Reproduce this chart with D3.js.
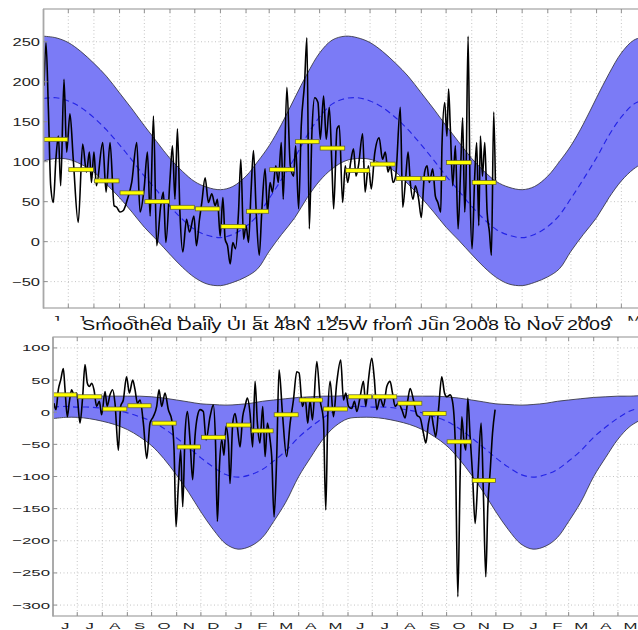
<!DOCTYPE html>
<html><head><meta charset="utf-8">
<script src="https://cdn.jsdelivr.net/npm/d3@7"></script>
<style>body{margin:0;background:#fff}svg{display:block}</style>
</head><body>
<svg id="c" width="638" height="630"></svg>
<script>
// ---------- DATA ----------
const titleText = "Smoothed Daily UI at 48N 125W from Jun 2008 to Nov 2009";
const monthLabels = ["J","J","A","S","O","N","D","J","F","M","A","M","J","J","A","S","O","N","D","J","F","M","A","M"];
const topYTicks = [250,200,150,100,50,0,-50];
const botYTicks = [100,50,0,-50,-100,-150,-200,-250,-300];

// climatology, days after 1 June (one seasonal cycle, repeated each year)
const climDays = [0,15,30,45,61,76,92,107,122,137,153,168,183,198,214,229,245,259,273,288,304,319,334,349,365];
const topUpper = [257,255,249,238,223,207,186,166,145,125,104,88,75,68,65,69,82,100,120,147,180,210,236,252,257];
const topMean  = [179,180,176,168,155,140,121,102,82,64,44,28,15,8,5,9,19,33,54,78,105,133,156,172,179];
const topLower = [101,104,103,97,87,72,55,37,18,2,-16,-32,-45,-53,-55,-51,-44,-34,-12,9,30,55,76,91,101];
const botUpper = [26,26,25,25,25,25,25,25,24,22,19,16,13,12,11,12,14,17,19,21,23,24,25,25,26];
const botMean  = [8,9,8,8,6,3,-1,-7,-14,-25,-40,-55,-71,-85,-97,-101,-97,-89,-76,-60,-39,-23,-9,2,8];
const botLower = [-10,-8,-8,-10,-14,-19,-27,-38,-52,-72,-98,-125,-155,-182,-205,-213,-208,-195,-170,-140,-100,-70,-42,-22,-10];

// monthly means Jun 2008 .. Nov 2009
const topMonthly = [128,90,76,61,50,43,41,19,38,90,125,117,89,97,79,79,99,74];
const botMonthly = [27,24,5,10,-17,-54,-39,-20,-29,-4,19,5,24,24,14,-2,-46,-106];

// smoothed daily UI (days after 1 June 2008, value)
const topDaily = [[0.6,195],[3,249],[5.9,166],[8.7,70],[11.9,49],[15,103],[18,132],[20.8,70],[24.8,203],[28,112],[32,160],[36,103],[42,24],[47.4,122],[52,87],[55.5,112],[58,74],[61,112],[64,70],[71.6,124],[75.7,62],[80.5,124],[85.4,45],[88.6,43],[92.6,37],[96.6,39],[101.5,53],[106.7,74],[112.8,124],[116.8,37],[121.7,66],[125.7,112],[129,32],[133,157],[137,-5],[141.8,45],[145,62],[148,-1],[153,78],[156,120],[159,53],[162,141],[165,37],[168.5,-13],[173,28],[176.6,12],[182,32],[185,-5],[188.7,28],[191.5,49],[195.5,80],[199.5,49],[203.6,60],[207.6,45],[210.4,53],[213.7,7],[217,55],[219.7,3],[222.6,-5],[225.8,-28],[229,-1],[232.3,-9],[235.9,37],[238.7,103],[242,3],[245,20],[248,-1],[251,62],[254,114],[257.3,37],[261,-17],[264,37],[268,91],[271,37],[274,74],[277,62],[281,95],[284,74],[287.6,124],[290,53],[294.4,193],[298.5,95],[302.5,82],[305,120],[308.6,41],[311.8,145],[315.8,199],[318.6,255],[321.5,16],[324.7,137],[328,180],[332,174],[334.8,128],[338.8,182],[342,128],[345.7,168],[349,91],[351,41],[355,141],[357.8,145],[361.8,49],[365,95],[368,74],[371.5,99],[375,116],[378,82],[381,95],[386,135],[389,62],[393,95],[396.5,66],[400.6,110],[406,130],[410,103],[413.5,112],[416.7,87],[419.5,95],[422.8,74],[426,82],[431.6,168],[434.5,43],[437.7,74],[441,112],[443.7,74],[447,53],[449.8,70],[453.8,53],[457,30],[461,87],[464,95],[466.7,74],[470.8,91],[474,57],[477,49],[480.5,37],[482,120],[485.3,174],[488,132],[490,191],[492,145],[495,70],[498.2,120],[501.5,16],[504.7,95],[507,155],[509.5,37],[511,74],[513.6,257],[516,62],[518.4,-9],[521.6,82],[524,124],[526.5,20],[528.5,132],[531,82],[533.8,124],[536.6,37],[539.4,12],[541.8,-17],[544.6,162],[546.6,74]];
const botDaily = [[1.2,14],[3.7,4],[6.6,35],[9.5,50],[12.8,68],[14.9,35],[17.7,-7],[20,14],[23,35],[26,27],[29.3,30],[33.4,-17],[36.7,24],[39.6,74],[42.5,45],[45,40],[47.9,45],[50.7,35],[54,9],[57.3,17],[60.2,-4],[64.4,32],[67,9],[70.5,27],[73.8,35],[76.7,14],[80.9,-59],[83.7,9],[87,19],[91,55],[94.5,30],[98.6,50],[101.5,35],[104.4,14],[107.7,19],[111.8,-17],[116,-72],[120,-17],[124,-7],[128.3,9],[131.2,35],[134.5,9],[138.6,30],[142.7,4],[146.9,-12],[149.8,-59],[152.2,-178],[155,-116],[158,-59],[160.5,-147],[163.4,-33],[166.3,1],[169.5,-43],[172.8,-105],[175.7,-38],[178.6,-7],[182,4],[186,1],[189.4,-43],[194.3,-7],[198.4,11],[201,-43],[203.4,-170],[205.9,-85],[208.7,-43],[211.6,-67],[214,-22],[217,-48],[219,-111],[222.4,-17],[225.2,-2],[228,-22],[231.4,-54],[234.7,-7],[237.6,9],[240.5,22],[243.8,-2],[247,-54],[250,48],[252.9,-17],[256,-48],[259.5,9],[262.4,-69],[265.3,-17],[268.6,-43],[270.6,-69],[273.5,-163],[276.8,-69],[279.7,66],[283.9,-2],[289,-69],[293.4,-17],[297.5,19],[301.6,63],[304.5,61],[308.6,9],[312,22],[315.2,-17],[318,19],[321,-12],[326.4,79],[330.5,19],[334.6,-12],[337.5,-152],[340,-7],[342.9,48],[347,-7],[351,45],[356,81],[359.4,19],[362.3,30],[365.6,9],[369.7,6],[373,17],[375.9,1],[380,24],[384.1,48],[387,9],[390.3,50],[394.4,84],[397.7,50],[400.6,4],[404.8,22],[408.9,9],[413,40],[417.1,48],[420,30],[423.3,9],[427.4,14],[431.6,4],[435.7,-9],[439,19],[441.9,37],[446,19],[450.1,-4],[454.3,-9],[458.4,-33],[461.3,-48],[464.6,-17],[467.9,-2],[470.8,-22],[473.6,-38],[477,4],[481,55],[484.4,30],[487.3,24],[491.4,27],[494.3,17],[497.6,-43],[500.9,-287],[503.8,-95],[505.8,-7],[508.3,-43],[510.8,-59],[513.2,22],[516.1,-38],[519,-95],[522.3,-173],[525.6,-105],[529.7,-17],[532.6,-131],[535.5,-256],[538,-147],[541,-90],[543.8,-33],[547,4]];

// ---------- DRAW ----------
const svg = d3.select('#c');
const t0 = Date.UTC(2008,5,1);
const dayToDate = d => new Date(t0 + d*864e5);
const startD = new Date(Date.UTC(2008,5,1)), endD = new Date(Date.UTC(2010,5,1));
const monthStarts = d3.utcMonth.range(startD, d3.utcDay.offset(endD,1)); // 25 boundaries

function climSeries(vals){
  const out=[];
  [0,365].forEach((yr,k)=>{
    climDays.forEach((d,i)=>{ if(k===1 && i===0) return; out.push([d+yr, vals[i]]); });
  });
  return out;
}

function panel(o){
  const g = svg.append('g');
  const x = d3.scaleUtc().domain([startD,endD]).range([o.left,o.right]);
  const y = d3.scaleLinear().domain(o.ydom).range([o.bottom,o.top]);
  const clipId = 'clip'+o.id;
  g.append('clipPath').attr('id',clipId).append('rect')
    .attr('x',o.left).attr('y',o.top).attr('width',o.right-o.left).attr('height',o.bottom-o.top);
  const pg = g.append('g').attr('clip-path',`url(#${clipId})`);
  // grid
  pg.selectAll('.vg').data(monthStarts.slice(1,-1)).join('line')
    .attr('x1',d=>x(d)).attr('x2',d=>x(d)).attr('y1',o.top).attr('y2',o.bottom)
    .attr('stroke','#c4c4c4').attr('stroke-dasharray','1,2.5').attr('stroke-width',1);
  pg.selectAll('.hg').data(o.yticks).join('line')
    .attr('x1',o.left).attr('x2',o.right).attr('y1',d=>y(d)).attr('y2',d=>y(d))
    .attr('stroke','#c4c4c4').attr('stroke-dasharray','1,2.5').attr('stroke-width',1);
  // band
  const up = climSeries(o.upper), lo = climSeries(o.lower), mn = climSeries(o.mean);
  const bandData = up.map((p,i)=>({d:p[0],u:p[1],l:lo[i][1]}));
  const area = d3.area().x(p=>x(dayToDate(p.d))).y0(p=>y(p.l)).y1(p=>y(p.u)).curve(d3.curveCatmullRom);
  pg.append('path').datum(bandData).attr('d',area).attr('fill','#7b7bf6').attr('stroke','none');
  const ln = d3.line().x(p=>x(dayToDate(p[0]))).y(p=>y(p[1])).curve(d3.curveCatmullRom);
  pg.append('path').datum(up).attr('d',ln).attr('fill','none').attr('stroke','#3a3a4a').attr('stroke-width',0.9);
  pg.append('path').datum(lo).attr('d',ln).attr('fill','none').attr('stroke','#3a3a4a').attr('stroke-width',0.9);
  pg.append('path').datum(mn).attr('d',ln).attr('fill','none').attr('stroke','#2424e6').attr('stroke-width',1.15).attr('stroke-dasharray','6,4');
  // daily series
  const dl = d3.line().x(p=>x(dayToDate(p[0]))).y(p=>y(p[1])).curve(d3.curveMonotoneX);
  pg.append('path').datum(o.daily).attr('d',dl).attr('fill','none').attr('stroke','#000').attr('stroke-width',1.6).attr('stroke-linejoin','round');
  // monthly bars
  pg.selectAll('.mb').data(o.monthly).join('rect')
    .attr('x',(d,i)=>x(monthStarts[i])+0.5).attr('width',(d,i)=>x(monthStarts[i+1])-x(monthStarts[i])-1)
    .attr('y',d=>y(d)-2).attr('height',4)
    .attr('fill','#ffff00').attr('stroke','#5a5a30').attr('stroke-width',0.7);
  // frame
  const fc = '#8f8f8f';
  g.append('rect').attr('x',o.left).attr('y',o.top).attr('width',o.right-o.left).attr('height',o.bottom-o.top)
    .attr('fill','none').attr('stroke',fc).attr('stroke-width',1);
  g.append('line').attr('x1',o.left).attr('x2',o.left).attr('y1',o.top).attr('y2',o.bottom+0.5)
    .attr('stroke','#a8a8a8').attr('stroke-width',1.8);
  // ticks
  const tk = 4;
  monthStarts.slice(1,-1).forEach(d=>{
    g.append('line').attr('x1',x(d)).attr('x2',x(d)).attr('y1',o.bottom).attr('y2',o.bottom-tk).attr('stroke',fc);
    g.append('line').attr('x1',x(d)).attr('x2',x(d)).attr('y1',o.top).attr('y2',o.top+tk).attr('stroke',fc);
  });
  o.yticks.forEach(v=>{
    g.append('line').attr('x1',o.left).attr('x2',o.left+tk).attr('y1',y(v)).attr('y2',y(v)).attr('stroke',fc);
  });
  // labels
  const fam = '"Liberation Sans", Arial, Helvetica, sans-serif';
  o.yticks.forEach(v=>{
    g.append('text').attr('transform',`translate(${o.labelX},${y(v)+o.fs*0.36}) scale(${o.sx},1)`)
      .attr('text-anchor','end').attr('font-family',fam).attr('font-size',o.fs).attr('fill','#222')
      .text(v<0 ? '\u2212'+Math.abs(v) : String(v));
  });
  monthLabels.forEach((m,i)=>{
    const xm = (x(monthStarts[i])+x(monthStarts[i+1]))/2;
    g.append('text').attr('transform',`translate(${xm},${o.monthY}) scale(${o.sx},1)`)
      .attr('text-anchor','middle').attr('font-family',fam).attr('font-size',o.fs).attr('fill','#222')
      .text(m);
  });
  return g;
}

panel({id:'t',left:43.5,right:647,top:9,bottom:308,ydom:[-83,291],yticks:topYTicks,
  upper:topUpper,lower:topLower,mean:topMean,daily:topDaily,monthly:topMonthly,
  labelX:40,fs:11,sx:1.5,monthY:324.2});

// cover (second figure pasted below)
svg.append('rect').attr('x',0).attr('y',320.8).attr('width',638).attr('height',310).attr('fill','#fff');

panel({id:'b',left:53,right:643,top:337,bottom:616,ydom:[-317,117],yticks:botYTicks,
  upper:botUpper,lower:botLower,mean:botMean,daily:botDaily,monthly:botMonthly,
  labelX:50,fs:9.6,sx:1.75,monthY:629.3});

svg.append('text').attr('x',346.5).attr('y',330)
  .attr('text-anchor','middle').attr('font-family','"Liberation Sans", Arial, Helvetica, sans-serif')
  .attr('font-size',15).attr('fill','#111')
  .attr('textLength',529).attr('lengthAdjust','spacingAndGlyphs')
  .text(titleText);
</script>
</body></html>
